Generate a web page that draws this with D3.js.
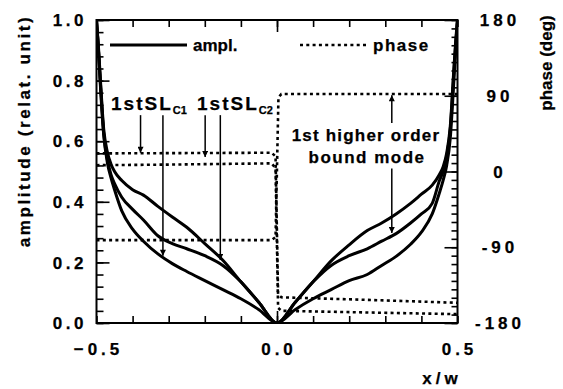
<!DOCTYPE html>
<html>
<head>
<meta charset="utf-8">
<script src="https://cdn.jsdelivr.net/npm/d3@7"></script>
<style>
body { margin: 0; background: #fff; }
svg text { font-family: "Liberation Sans", Arial, Helvetica, sans-serif; font-weight: bold; fill: #000; stroke: #000; stroke-width: 0.25px; }
</style>
</head>
<body>
<div id="main"></div>
<script>
// amplitude curves (three modes), x/w positions
const ampX   = [-0.5, -0.495, -0.49, -0.48, -0.47, -0.46, -0.45, -0.43, -0.40, -0.37, -0.33, -0.29, -0.25, -0.20, -0.15, -0.10, -0.05, 0,
                 0.05, 0.10, 0.15, 0.20, 0.25, 0.29, 0.33, 0.37, 0.40, 0.43, 0.45, 0.46, 0.47, 0.48, 0.49, 0.495, 0.5];
const ampTop = [1.0, 0.92, 0.82, 0.64, 0.565, 0.525, 0.50, 0.47, 0.44, 0.422, 0.385, 0.35, 0.316, 0.262, 0.207, 0.136, 0.068, 0,
                0.068, 0.136, 0.205, 0.258, 0.305, 0.33, 0.36, 0.395, 0.425, 0.455, 0.49, 0.515, 0.56, 0.65, 0.84, 0.93, 1.0];
const ampMid = [1.0, 0.91, 0.81, 0.625, 0.54, 0.49, 0.46, 0.415, 0.375, 0.34, 0.288, 0.262, 0.245, 0.222, 0.19, 0.136, 0.068, 0,
                0.068, 0.136, 0.19, 0.222, 0.245, 0.27, 0.295, 0.33, 0.36, 0.395, 0.47, 0.50, 0.55, 0.64, 0.83, 0.92, 1.0];
const ampLow = [1.0, 0.91, 0.80, 0.62, 0.53, 0.48, 0.44, 0.37, 0.31, 0.27, 0.228, 0.196, 0.17, 0.14, 0.11, 0.08, 0.044, 0,
                0.044, 0.08, 0.11, 0.14, 0.16, 0.19, 0.22, 0.26, 0.30, 0.36, 0.43, 0.47, 0.52, 0.61, 0.80, 0.90, 1.0];

// phase curves (deg)
const phX  = [-0.5, -0.3, -0.015, -0.004, 0.003, 0.012, 0.25, 0.5];
const phA  = [21.5, 21.8, 22.3, 18, -146, -149.5, -152.5, -156];
const phB  = [7.5, 8.2, 9.7, 4, -162, -165.5, -167.5, -169.5];
const phCX = [-0.5, -0.3, -0.015, -0.004, 0.004, 0.012, 0.5];
const phC  = [-81.5, -81.5, -81.5, -78, 88, 92, 92];

// ticks
const xTicks = [-0.5, 0.0, 0.5];
const xMinor = d3.range(-5, 6).map(d => d / 10);
const ampTicks = [0.0, 0.2, 0.4, 0.6, 0.8, 1.0];
const ampMinor = d3.range(0, 26).map(d => d * 0.04);
const phTicks = [-180, -90, 0, 90, 180];
const phMinor = d3.range(-18, 19).map(d => d * 10);

// annotation arrows (x/w, from amplitude, to amplitude)
const arrowX    = [-0.378, -0.316, -0.199, -0.157, 0.318, 0.318];
const arrowFrom = [0.686, 0.686, 0.686, 0.686, 0.66, 0.51];
const arrowTo   = [0.562, 0.222, 0.548, 0.208, 0.752, 0.297];

ctx = {
    width: 563,
    height: 389,
    left: 96.5,
    right: 457.5,
    top: 20,
    bottom: 323,
    svg: null,
};

let x = d3.scaleLinear().domain([-0.5, 0.5]).range([ctx.left, ctx.right]);
let yA = d3.scaleLinear().domain([0, 1]).range([ctx.bottom, ctx.top]);
let yP = d3.scaleLinear().domain([-180, 180]).range([ctx.bottom, ctx.top]);

function drawAxes(svg) {
    // inward minor / major ticks
    const axes = [
        [d3.axisBottom(x).tickValues(xMinor).tickSize(-7), `translate(0,${ctx.bottom})`],
        [d3.axisBottom(x).tickValues([0]).tickSize(-12), `translate(0,${ctx.bottom})`],
        [d3.axisTop(x).tickValues(xMinor).tickSize(-7), `translate(0,${ctx.top})`],
        [d3.axisTop(x).tickValues([0]).tickSize(-12), `translate(0,${ctx.top})`],
        [d3.axisLeft(yA).tickValues(ampMinor).tickSize(-7), `translate(${ctx.left},0)`],
        [d3.axisLeft(yA).tickValues(ampTicks).tickSize(-13), `translate(${ctx.left},0)`],
        [d3.axisRight(yP).tickValues(phMinor).tickSize(-6), `translate(${ctx.right},0)`],
        [d3.axisRight(yP).tickValues(phTicks).tickSize(-13), `translate(${ctx.right},0)`],
    ];
    axes.forEach(([ax, tr]) => {
        let g = svg.append("g").attr("transform", tr).call(ax.tickFormat(""));
        g.select(".domain").remove();
        g.selectAll("line").attr("stroke", "#000").attr("stroke-width", 1.6);
    });

    svg.append("rect")
        .attr("x", ctx.left).attr("y", ctx.top)
        .attr("width", ctx.right - ctx.left).attr("height", ctx.bottom - ctx.top)
        .attr("fill", "none").attr("stroke", "#000").attr("stroke-width", 2);

    // tick labels
    svg.selectAll(".xl").data(xTicks).enter().append("text")
        .attr("x", d => x(d) + 2).attr("y", 355)
        .attr("text-anchor", "middle")
        .style("font-size", "17px").style("letter-spacing", "4px")
        .text(d => d3.format(".1f")(d));

    svg.selectAll(".yl").data(ampTicks).enter().append("text")
        .attr("x", 87).attr("y", d => yA(d)).attr("dy", "0.36em")
        .attr("text-anchor", "end")
        .style("font-size", "17px").style("letter-spacing", "3.5px")
        .text(d => d3.format(".1f")(d));

    svg.selectAll(".pl").data(phTicks).enter().append("text")
        .attr("x", 500).attr("y", d => yP(d)).attr("dy", "0.36em")
        .attr("text-anchor", "middle")
        .style("font-size", "17px").style("letter-spacing", "4px")
        .text(d => d);

    svg.append("text")
        .attr("x", 442).attr("y", 384)
        .attr("text-anchor", "middle")
        .style("font-size", "17px").style("letter-spacing", "4px")
        .text("x/w");

    svg.append("text")
        .attr("transform", "translate(30,131) rotate(-90)")
        .attr("text-anchor", "middle")
        .style("font-size", "17px").style("letter-spacing", "2.6px")
        .text("amplitude (relat. unit)");

    svg.append("text")
        .attr("transform", "translate(552,63) rotate(-90)")
        .attr("text-anchor", "middle")
        .style("font-size", "17px")
        .text("phase (deg)");
}

function drawCurves(svg) {
    svg.append("clipPath").attr("id", "plotclip")
        .append("rect")
        .attr("x", ctx.left).attr("y", ctx.top - 1)
        .attr("width", ctx.right - ctx.left).attr("height", ctx.bottom - ctx.top + 1);

    let plot = svg.append("g").attr("clip-path", "url(#plotclip)");

    let ampLine = d3.line()
        .x((d, i) => x(ampX[i]))
        .y(d => yA(d))
        .curve(d3.curveMonotoneX);

    [ampTop, ampMid, ampLow].forEach(s => {
        plot.append("path")
            .attr("d", ampLine(s))
            .attr("fill", "none")
            .attr("stroke", "#000")
            .attr("stroke-width", 3);
    });

    let phLine = xs => d3.line()
        .x((d, i) => x(xs[i]))
        .y(d => yP(d));

    [[phX, phA], [phX, phB], [phCX, phC]].forEach(([xs, s]) => {
        plot.append("path")
            .attr("d", phLine(xs)(s))
            .attr("fill", "none")
            .attr("stroke", "#000")
            .attr("stroke-width", 2.6)
            .attr("stroke-dasharray", "3,3.3");
    });
}

function drawLegend(svg) {
    svg.append("line")
        .attr("x1", 110).attr("x2", 187).attr("y1", 45).attr("y2", 45)
        .attr("stroke", "#000").attr("stroke-width", 3);
    svg.append("text")
        .attr("x", 193).attr("y", 51)
        .style("font-size", "17px")
        .text("ampl.");

    svg.append("line")
        .attr("x1", 300).attr("x2", 366).attr("y1", 45).attr("y2", 45)
        .attr("stroke", "#000").attr("stroke-width", 2.6)
        .attr("stroke-dasharray", "3,3.3");
    svg.append("text")
        .attr("x", 373).attr("y", 51)
        .style("font-size", "17px").style("letter-spacing", "1.5px")
        .text("phase");
}

function drawNotes(svg) {
    svg.append("defs").append("marker")
        .attr("id", "head")
        .attr("viewBox", "0 0 10 10")
        .attr("refX", 10).attr("refY", 5)
        .attr("markerUnits", "userSpaceOnUse")
        .attr("markerWidth", 9).attr("markerHeight", 6)
        .attr("orient", "auto")
        .append("path").attr("d", "M0,0 L10,5 L0,10 Z").attr("fill", "#000");

    arrowX.forEach((ax, i) => {
        svg.append("line")
            .attr("x1", x(ax)).attr("x2", x(ax))
            .attr("y1", yA(arrowFrom[i])).attr("y2", yA(arrowTo[i]))
            .attr("stroke", "#000").attr("stroke-width", 1.5)
            .attr("marker-end", "url(#head)");
    });

    [["C1", 111], ["C2", 197]].forEach(([sub, px]) => {
        let t = svg.append("text")
            .attr("x", px).attr("y", 110)
            .style("font-size", "19px").style("letter-spacing", "2px");
        t.append("tspan").text("1stSL");
        t.append("tspan").attr("dy", 4).style("font-size", "11px").style("letter-spacing", "0px").text(sub);
    });

    svg.append("text")
        .attr("x", 366).attr("y", 141)
        .attr("text-anchor", "middle")
        .style("font-size", "17px").style("letter-spacing", "1.2px")
        .text("1st higher order");
    svg.append("text")
        .attr("x", 367).attr("y", 163)
        .attr("text-anchor", "middle")
        .style("font-size", "17px").style("letter-spacing", "1.5px")
        .text("bound mode");
}

function createViz() {
    let svgEl = d3.select("#main").append("svg")
        .attr("width", ctx.width)
        .attr("height", ctx.height);
    ctx.svg = svgEl;
    drawCurves(svgEl);
    drawAxes(svgEl);
    drawLegend(svgEl);
    drawNotes(svgEl);
}

createViz();
</script>
</body>
</html>
